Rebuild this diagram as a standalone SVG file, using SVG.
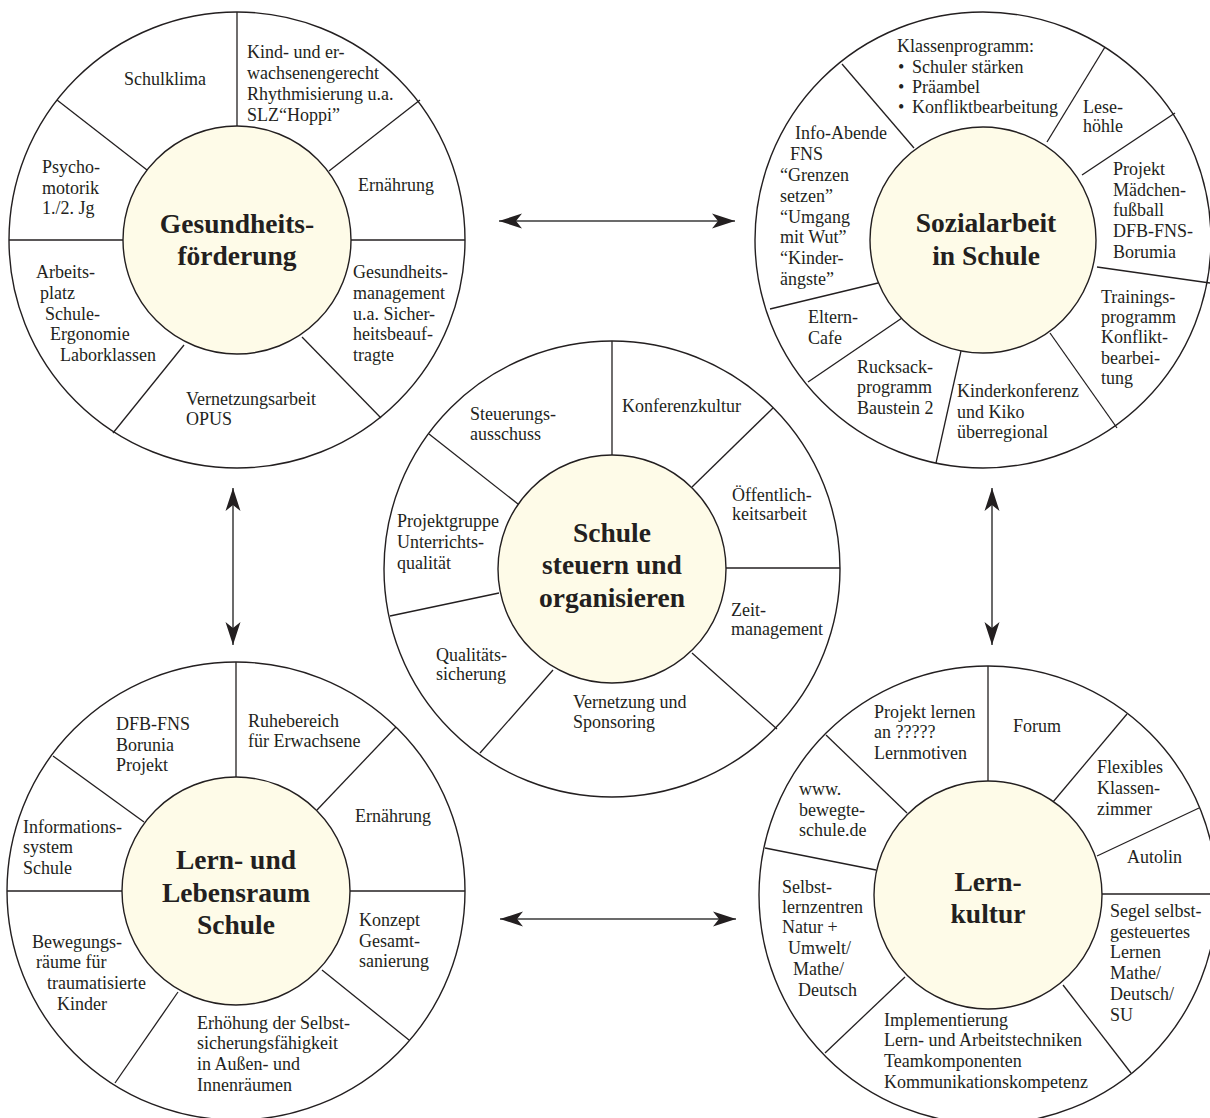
<svg xmlns="http://www.w3.org/2000/svg" width="1210" height="1118" viewBox="0 0 1210 1118">
<style>
.ring{fill:none;stroke:#231f20;stroke-width:1.4}
.hub{fill:#fefbe8;stroke:#231f20;stroke-width:1.4}
.sp{stroke:#231f20;stroke-width:1.3}
.t{font-family:"Liberation Serif","Times New Roman",serif;font-size:18px;fill:#231f20}
.h{font-family:"Liberation Serif","Times New Roman",serif;font-size:27.5px;font-weight:bold;fill:#231f20;text-anchor:middle}
.ar{stroke:#3a3a3a;stroke-width:1.5;fill:none;marker-start:url(#ah);marker-end:url(#ah)}
</style>
<defs>
<marker id="ah" markerUnits="userSpaceOnUse" markerWidth="24" markerHeight="16" viewBox="0 0 24 16" refX="23" refY="8" orient="auto-start-reverse">
<path d="M23,8 L0,0.5 L6,8 L0,15.5 Z" fill="#231f20"/>
</marker>
</defs>
<rect width="1210" height="1118" fill="#ffffff"/>

<g id="connectors">
<line class="ar" x1="499" y1="221" x2="735" y2="221"/>
<line class="ar" x1="500" y1="919" x2="736" y2="919"/>
<line class="ar" x1="233" y1="488" x2="233" y2="645"/>
<line class="ar" x1="992" y1="488" x2="992" y2="645"/>
</g>

<g id="gesundheit">
<circle class="ring" cx="237" cy="240" r="228"/>
<line class="sp" x1="237" y1="12" x2="237" y2="126"/>
<line class="sp" x1="57" y1="100" x2="147" y2="170"/>
<line class="sp" x1="9" y1="240" x2="123" y2="240"/>
<line class="sp" x1="184" y1="345" x2="113" y2="433"/>
<line class="sp" x1="302" y1="337" x2="381" y2="418"/>
<line class="sp" x1="351" y1="240" x2="465" y2="240"/>
<line class="sp" x1="329" y1="171" x2="420" y2="100"/>
<circle class="hub" cx="237" cy="240" r="114"/>
<text class="h"><tspan x="237" y="233">Gesundheits-</tspan><tspan x="237" y="265">förderung</tspan></text>
<text class="t" x="124" y="85">Schulklima</text>
<text class="t"><tspan x="247" y="58">Kind- und er-</tspan><tspan x="247" y="79">wachsenengerecht</tspan><tspan x="247" y="100">Rhythmisierung u.a.</tspan><tspan x="247" y="121">SLZ“Hoppi”</tspan></text>
<text class="t"><tspan x="42" y="173">Psycho-</tspan><tspan x="42" y="194">motorik</tspan><tspan x="42" y="214">1./2. Jg</tspan></text>
<text class="t" x="358" y="191">Ernährung</text>
<text class="t"><tspan x="36" y="278">Arbeits-</tspan><tspan x="40" y="299">platz</tspan><tspan x="45" y="320">Schule-</tspan><tspan x="50" y="340">Ergonomie</tspan><tspan x="60" y="361">Laborklassen</tspan></text>
<text class="t"><tspan x="353" y="278">Gesundheits-</tspan><tspan x="353" y="299">management</tspan><tspan x="353" y="320">u.a. Sicher-</tspan><tspan x="353" y="340">heitsbeauf-</tspan><tspan x="353" y="361">tragte</tspan></text>
<text class="t"><tspan x="186" y="405">Vernetzungsarbeit</tspan><tspan x="186" y="425">OPUS</tspan></text>
</g>

<g id="sozialarbeit">
<circle class="ring" cx="983" cy="240" r="228"/>
<line class="sp" x1="842" y1="64" x2="914" y2="148"/>
<line class="sp" x1="1105" y1="47" x2="1047" y2="142"/>
<line class="sp" x1="1175" y1="113" x2="1082" y2="175"/>
<line class="sp" x1="1097" y1="267" x2="1210" y2="283"/>
<line class="sp" x1="1050" y1="333" x2="1117" y2="428"/>
<line class="sp" x1="961" y1="351" x2="936" y2="463"/>
<line class="sp" x1="902" y1="318" x2="808" y2="382"/>
<line class="sp" x1="878" y1="283" x2="770" y2="309"/>
<circle class="hub" cx="983" cy="240" r="113"/>
<text class="h"><tspan x="986" y="232">Sozialarbeit</tspan><tspan x="986" y="265">in Schule</tspan></text>
<text class="t"><tspan x="897" y="52">Klassenprogramm:</tspan><tspan x="898" y="73">•</tspan><tspan x="912" y="73">Schuler stärken</tspan><tspan x="898" y="93">•</tspan><tspan x="912" y="93">Präambel</tspan><tspan x="898" y="113">•</tspan><tspan x="912" y="113">Konfliktbearbeitung</tspan></text>
<text class="t"><tspan x="1083" y="113">Lese-</tspan><tspan x="1083" y="132">höhle</tspan></text>
<text class="t"><tspan x="795" y="139">Info-Abende</tspan><tspan x="790" y="160">FNS</tspan><tspan x="780" y="181">“Grenzen</tspan><tspan x="780" y="202">setzen”</tspan><tspan x="780" y="223">“Umgang</tspan><tspan x="780" y="243">mit Wut”</tspan><tspan x="780" y="264">“Kinder-</tspan><tspan x="780" y="285">ängste”</tspan></text>
<text class="t"><tspan x="1113" y="175">Projekt</tspan><tspan x="1113" y="196">Mädchen-</tspan><tspan x="1113" y="216">fußball</tspan><tspan x="1113" y="237">DFB-FNS-</tspan><tspan x="1113" y="258">Borumia</tspan></text>
<text class="t"><tspan x="1101" y="303">Trainings-</tspan><tspan x="1101" y="323">programm</tspan><tspan x="1101" y="343">Konflikt-</tspan><tspan x="1101" y="364">bearbei-</tspan><tspan x="1101" y="384">tung</tspan></text>
<text class="t"><tspan x="808" y="323">Eltern-</tspan><tspan x="808" y="344">Cafe</tspan></text>
<text class="t"><tspan x="857" y="373">Rucksack-</tspan><tspan x="857" y="393">programm</tspan><tspan x="857" y="414">Baustein 2</tspan></text>
<text class="t"><tspan x="957" y="397">Kinderkonferenz</tspan><tspan x="957" y="418">und Kiko</tspan><tspan x="957" y="438">überregional</tspan></text>
</g>

<g id="steuern">
<circle class="ring" cx="612" cy="569" r="228"/>
<line class="sp" x1="612" y1="341" x2="612" y2="455"/>
<line class="sp" x1="692" y1="487" x2="773" y2="408"/>
<line class="sp" x1="726" y1="568" x2="840" y2="568"/>
<line class="sp" x1="692" y1="653" x2="777" y2="729"/>
<line class="sp" x1="553" y1="670" x2="480" y2="753"/>
<line class="sp" x1="499" y1="593" x2="390" y2="616"/>
<line class="sp" x1="518" y1="504" x2="429" y2="434"/>
<circle class="hub" cx="612" cy="569" r="114"/>
<text class="h"><tspan x="612" y="542">Schule</tspan><tspan x="612" y="574">steuern und</tspan><tspan x="612" y="607">organisieren</tspan></text>
<text class="t"><tspan x="470" y="420">Steuerungs-</tspan><tspan x="470" y="440">ausschuss</tspan></text>
<text class="t" x="622" y="412">Konferenzkultur</text>
<text class="t"><tspan x="732" y="501">Öffentlich-</tspan><tspan x="732" y="520">keitsarbeit</tspan></text>
<text class="t"><tspan x="397" y="527">Projektgruppe</tspan><tspan x="397" y="548">Unterrichts-</tspan><tspan x="397" y="569">qualität</tspan></text>
<text class="t"><tspan x="731" y="616">Zeit-</tspan><tspan x="731" y="635">management</tspan></text>
<text class="t"><tspan x="436" y="661">Qualitäts-</tspan><tspan x="436" y="680">sicherung</tspan></text>
<text class="t"><tspan x="573" y="708">Vernetzung und</tspan><tspan x="573" y="728">Sponsoring</tspan></text>
</g>

<g id="lebensraum">
<circle class="ring" cx="236" cy="891" r="229"/>
<line class="sp" x1="236" y1="662" x2="236" y2="777"/>
<line class="sp" x1="144" y1="822" x2="53" y2="756"/>
<line class="sp" x1="7" y1="891" x2="122" y2="891"/>
<line class="sp" x1="178" y1="992" x2="115" y2="1083"/>
<line class="sp" x1="322" y1="970" x2="409" y2="1040"/>
<line class="sp" x1="350" y1="891" x2="465" y2="891"/>
<line class="sp" x1="317" y1="810" x2="396" y2="727"/>
<circle class="hub" cx="236" cy="891" r="114"/>
<text class="h"><tspan x="236" y="869">Lern- und</tspan><tspan x="236" y="902">Lebensraum</tspan><tspan x="236" y="934">Schule</tspan></text>
<text class="t"><tspan x="116" y="730">DFB-FNS</tspan><tspan x="116" y="751">Borunia</tspan><tspan x="116" y="771">Projekt</tspan></text>
<text class="t"><tspan x="248" y="727">Ruhebereich</tspan><tspan x="248" y="747">für Erwachsene</tspan></text>
<text class="t" x="355" y="822">Ernährung</text>
<text class="t"><tspan x="23" y="833">Informations-</tspan><tspan x="23" y="853">system</tspan><tspan x="23" y="874">Schule</tspan></text>
<text class="t"><tspan x="359" y="926">Konzept</tspan><tspan x="359" y="947">Gesamt-</tspan><tspan x="359" y="967">sanierung</tspan></text>
<text class="t"><tspan x="32" y="948">Bewegungs-</tspan><tspan x="36" y="968">räume für</tspan><tspan x="47" y="989">traumatisierte</tspan><tspan x="57" y="1010">Kinder</tspan></text>
<text class="t"><tspan x="197" y="1029">Erhöhung der Selbst-</tspan><tspan x="197" y="1049">sicherungsfähigkeit</tspan><tspan x="197" y="1070">in Außen- und</tspan><tspan x="197" y="1091">Innenräumen</tspan></text>
</g>

<g id="lernkultur">
<circle class="ring" cx="988" cy="895" r="229"/>
<line class="sp" x1="988" y1="666" x2="988" y2="781"/>
<line class="sp" x1="1053" y1="802" x2="1127" y2="714"/>
<line class="sp" x1="1097" y1="856" x2="1199" y2="808"/>
<line class="sp" x1="1102" y1="894" x2="1217" y2="894"/>
<line class="sp" x1="1063" y1="985" x2="1131" y2="1073"/>
<line class="sp" x1="905" y1="977" x2="825" y2="1053"/>
<line class="sp" x1="876" y1="870" x2="765" y2="848"/>
<line class="sp" x1="907" y1="813" x2="826" y2="735"/>
<circle class="hub" cx="988" cy="895" r="114"/>
<text class="h"><tspan x="988" y="891">Lern-</tspan><tspan x="988" y="923">kultur</tspan></text>
<text class="t"><tspan x="874" y="718">Projekt lernen</tspan><tspan x="874" y="738">an ?????</tspan><tspan x="874" y="759">Lernmotiven</tspan></text>
<text class="t" x="1013" y="732">Forum</text>
<text class="t"><tspan x="1097" y="773">Flexibles</tspan><tspan x="1097" y="794">Klassen-</tspan><tspan x="1097" y="815">zimmer</tspan></text>
<text class="t"><tspan x="799" y="795">www.</tspan><tspan x="799" y="816">bewegte-</tspan><tspan x="799" y="836">schule.de</tspan></text>
<text class="t" x="1127" y="863">Autolin</text>
<text class="t"><tspan x="782" y="893">Selbst-</tspan><tspan x="782" y="913">lernzentren</tspan><tspan x="782" y="933">Natur +</tspan><tspan x="788" y="954">Umwelt/</tspan><tspan x="793" y="975">Mathe/</tspan><tspan x="798" y="996">Deutsch</tspan></text>
<text class="t"><tspan x="1110" y="917">Segel selbst-</tspan><tspan x="1110" y="938">gesteuertes</tspan><tspan x="1110" y="958">Lernen</tspan><tspan x="1110" y="979">Mathe/</tspan><tspan x="1110" y="1000">Deutsch/</tspan><tspan x="1110" y="1021">SU</tspan></text>
<text class="t"><tspan x="884" y="1026">Implementierung</tspan><tspan x="884" y="1046">Lern- und Arbeitstechniken</tspan><tspan x="884" y="1067">Teamkomponenten</tspan><tspan x="884" y="1088">Kommunikationskompetenz</tspan></text>
</g>
</svg>
